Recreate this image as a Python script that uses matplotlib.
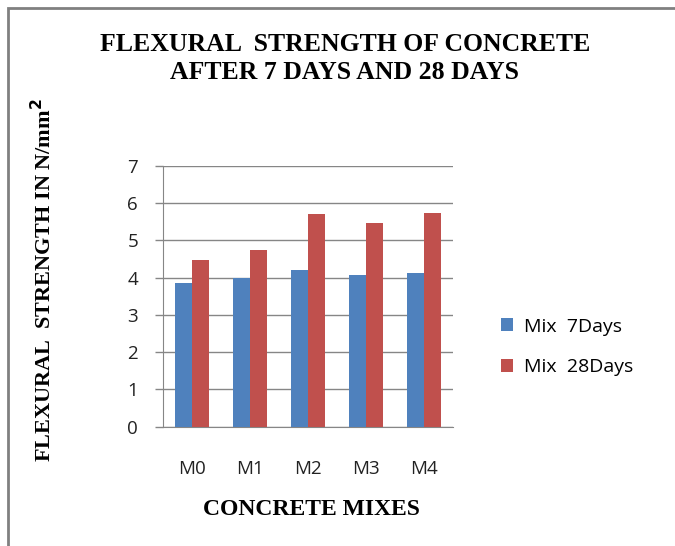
import numpy as np
import matplotlib.pyplot as plt
from matplotlib.patches import Rectangle

# Dados
mixes = ['M0', 'M1', 'M2', 'M3', 'M4']
dias7 = [3.86, 4.00, 4.20, 4.07, 4.11]
dias28 = [4.48, 4.75, 5.71, 5.46, 5.74]
series_labels = ['Mix  7Days', 'Mix  28Days']

azul = '#4F81BD'
vermelho = '#C0504D'
cinza = '#868686'
sans = 'Open Sans'
serif = 'Liberation Serif'

fig = plt.figure(figsize=(6.75, 5.46), dpi=100)
ax = fig.add_axes([0.2415, 0.2185, 0.4296, 0.478])

x = np.arange(len(mixes))
w = 0.285
ax.bar(x - w / 2, dias7, w, color=azul, label=series_labels[0], zorder=3)
ax.bar(x + w / 2, dias28, w, color=vermelho, label=series_labels[1], zorder=3)

ax.set_xlim(-0.5, len(mixes) - 0.5)
ax.set_ylim(0, 7)
ax.set_yticks(range(0, 8))
ax.set_xticks(x)
ax.set_xticklabels(mixes)
ax.yaxis.grid(True, color=cinza, linewidth=1.0, zorder=0)

for s in ['top', 'right']:
    ax.spines[s].set_visible(False)
ax.spines['left'].set_color(cinza)
ax.spines['bottom'].set_color(cinza)
ax.tick_params(axis='y', length=6, color=cinza, width=1.0, pad=12)
ax.tick_params(axis='x', length=0, pad=24)
for lab in ax.get_xticklabels() + ax.get_yticklabels():
    lab.set_fontfamily(sans)
    lab.set_fontsize(13.5)
    lab.set_color('#222222')

fig.text(0.511, 0.919, 'FLEXURAL  STRENGTH OF CONCRETE', ha='center', va='center',
         family=serif, weight='bold', fontsize=18.5)
fig.text(0.511, 0.867, 'AFTER 7 DAYS AND 28 DAYS', ha='center', va='center',
         family=serif, weight='bold', fontsize=18.5)
fig.text(0.064, 0.487, 'FLEXURAL  STRENGTH IN N/mm$^{\\mathbf{2}}$', rotation=90,
         ha='center', va='center', family=serif, weight='bold', fontsize=16)
fig.text(0.462, 0.066, 'CONCRETE MIXES', ha='center', va='center',
         family=serif, weight='bold', fontsize=17)

leg = fig.legend(loc='center left', bbox_to_anchor=(0.716, 0.365), frameon=False,
                 prop={'family': sans, 'size': 14}, handlelength=0.65,
                 handleheight=0.65, handletextpad=0.55, labelspacing=1.15)

# moldura externa
fig.patches.append(Rectangle((0.012, -0.01), 1.0, 0.995, transform=fig.transFigure,
                             fill=False, edgecolor='#808080', linewidth=2.0))

fig.savefig('out.png', dpi=100)
